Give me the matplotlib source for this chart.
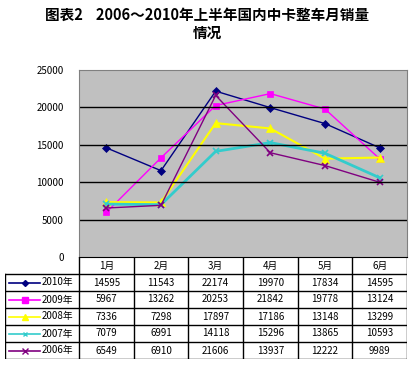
import matplotlib
matplotlib.use('Agg')
import matplotlib.pyplot as plt
from matplotlib.lines import Line2D

plt.rcParams['font.family'] = ['Noto Sans CJK SC', 'DejaVu Sans']

months = ['1月', '2月', '3月', '4月', '5月', '6月']
series_names = ['2010年', '2009年', '2008年', '2007年', '2006年']
sales_2010 = [14595, 11543, 22174, 19970, 17834, 14595]
sales_2009 = [5967, 13262, 20253, 21842, 19778, 13124]
sales_2008 = [7336, 7298, 17897, 17186, 13148, 13299]
sales_2007 = [7079, 6991, 14118, 15296, 13865, 10593]
sales_2006 = [6549, 6910, 21606, 13937, 12222, 9989]
all_sales = [sales_2010, sales_2009, sales_2008, sales_2007, sales_2006]

# style per series: color, marker, marker size, line width
styles = [
    ('#000080', 'D', 4, 1.0),
    ('#FF00FF', 's', 5, 1.0),
    ('#FFFF00', '^', 6, 1.5),
    ('#33CCCC', 'x', 4, 2.0),
    ('#800080', 'x', 5, 1.0),
]

W, H = 415, 365
fig = plt.figure(figsize=(W / 100, H / 100), dpi=100)

def frect(x0, y0, x1, y1):
    return [x0 / W, 1 - y1 / H, (x1 - x0) / W, (y1 - y0) / H]

# main plot
ax = fig.add_axes(frect(79, 70, 407, 257))
ax.set_facecolor('#C0C0C0')
x = list(range(len(months)))
for vals, (c, m, ms, lw) in zip(all_sales, styles):
    ax.plot(x, vals, color=c, marker=m, markersize=ms, linewidth=lw,
            markeredgewidth=1.2 if m == 'x' else 0.5, markeredgecolor=c)
ax.set_xlim(-0.5, len(months) - 0.5)
ax.set_ylim(0, 25000)
ax.set_yticks(range(0, 25001, 5000))
ax.tick_params(axis='y', length=0, labelsize=7, pad=11)
ax.tick_params(axis='x', length=0, labelbottom=False)
for yv in range(5000, 25000, 5000):
    ax.axhline(yv, color='black', linewidth=1)
for s in ax.spines.values():
    s.set_color('#808080')
ax.spines['bottom'].set_color('black')

# data table below the plot
tx0, tx1, ty0, ty1 = 5, 407, 257, 359
tab = fig.add_axes(frect(tx0, ty0, tx1, ty1))
tab.set_xlim(tx0, tx1)
tab.set_ylim(ty1, ty0)
tab.axis('off')
col_w = (407 - 79) / len(months)
row_h = (ty1 - ty0) / (len(series_names) + 1)
lk = dict(color='black', linewidth=1)
# vertical lines
for i in range(len(months) + 1):
    xv = 79 + i * col_w
    tab.add_line(Line2D([xv, xv], [ty0, ty1], **lk))
tab.add_line(Line2D([tx0, tx0], [ty0 + row_h, ty1], **lk))
# horizontal lines
for r in range(1, len(series_names) + 2):
    yv = ty0 + r * row_h
    tab.add_line(Line2D([tx0, tx1], [yv, yv], **lk))
# header
for i, mth in enumerate(months):
    tab.text(79 + (i + 0.5) * col_w, ty0 + 0.5 * row_h, mth, ha='center', va='center', fontsize=7)
# rows
for r, (name, vals, (c, m, ms, lw)) in enumerate(zip(series_names, all_sales, styles)):
    yc = ty0 + (r + 1.5) * row_h
    tab.add_line(Line2D([9, 40], [yc, yc], color=c, linewidth=1.2))
    tab.add_line(Line2D([24.5], [yc], color=c, marker=m, markersize=ms - 1,
                        markeredgewidth=1.0, markeredgecolor=c))
    tab.text(42, yc, name, ha='left', va='center', fontsize=7)
    for i, v in enumerate(vals):
        tab.text(79 + (i + 0.5) * col_w, yc, str(v), ha='center', va='center', fontsize=7)

fig.text(0.5, 1 - 15 / H, '图表2    2006～2010年上半年国内中卡整车月销量',
         ha='center', va='center', fontsize=10.5, fontweight='bold')
fig.text(0.5, 1 - 33 / H, '情况', ha='center', va='center', fontsize=10.5, fontweight='bold')

fig.savefig('out.png', dpi=100)
